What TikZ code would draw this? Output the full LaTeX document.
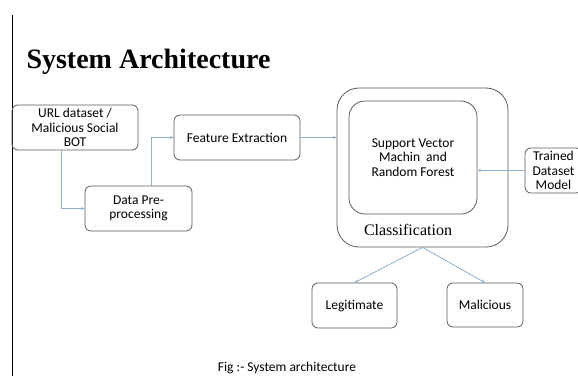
\documentclass[tikz,border=0pt]{standalone}
\usepackage{fontspec}
\setmainfont{Liberation Serif}
\newfontfamily\boxfont{Carlito}
\usetikzlibrary{arrows.meta}
\definecolor{arrowblue}{RGB}{140,176,206}
\definecolor{boxgray}{RGB}{90,90,90}
\tikzset{
  stage/.style={draw=boxgray,line width=0.8pt,rounded corners=6pt,align=center,
    inner sep=2pt,font=\boxfont\fontsize{13.5}{14.5}\selectfont},
  flow/.style={arrowblue,line width=0.8pt,-{Stealth[length=3.5pt,width=3pt]}}
}
\begin{document}
\begin{tikzpicture}[x=1pt,y=-1pt]
\useasboundingbox (0,0) rectangle (578,376);
%page rule on the left
    \draw[black,line width=1pt] (12,15) -- (12,376);
    \node[anchor=west,font=\fontsize{28}{30}\selectfont\bfseries] (title) at (23,62) {System Architecture};

%input side
    \node[stage,minimum width=126pt,minimum height=45pt] (url) at (75,127.5) {URL dataset /\\Malicious Social\\BOT};
    \node[stage,minimum width=126pt,minimum height=45pt] (feat) at (237,137.5) {Feature Extraction};
    \node[stage,minimum width=107pt,minimum height=45pt] (prep) at (138.5,208.5) {Data Pre-\\processing};

%classification block
    \node[draw=boxgray,line width=0.8pt,rounded corners=22pt,minimum width=171pt,minimum height=159pt] (cls) at (422.5,167.5) {};
    \node[stage,rounded corners=16pt,minimum width=128pt,minimum height=113pt] (svm) at (413,157.5) {Support Vector\\Machin\ \ and\\Random Forest};
    \node[font=\fontsize{16}{18}\selectfont] (clslabel) at (408,230) {Classification};
    \node[stage,minimum width=57pt,minimum height=45pt] (trained) at (553.5,170.5) {Trained\\Dataset\\Model};

%outputs
    \node[stage,minimum width=85pt,minimum height=45pt] (legit) at (354.5,305.5) {Legitimate};
    \node[stage,minimum width=76pt,minimum height=44pt] (mal) at (485,305) {Malicious};

    \node[font=\boxfont\fontsize{13.5}{15}\selectfont] (caption) at (287,368) {Fig :- System architecture};

    \draw[flow] ([xshift=-14pt]url.south) |- (prep.west);
    \draw[flow] ([xshift=12.5pt]prep.north) |- (feat.west);
    \draw[flow] (feat.east) -- (feat.east -| cls.west);
    \draw[flow] (trained.west) -- (trained.west -| svm.east);
    \draw[flow] (cls.south) -- (legit.north);
    \draw[flow] (cls.south) -- (mal.north);
\end{tikzpicture}
\end{document}
